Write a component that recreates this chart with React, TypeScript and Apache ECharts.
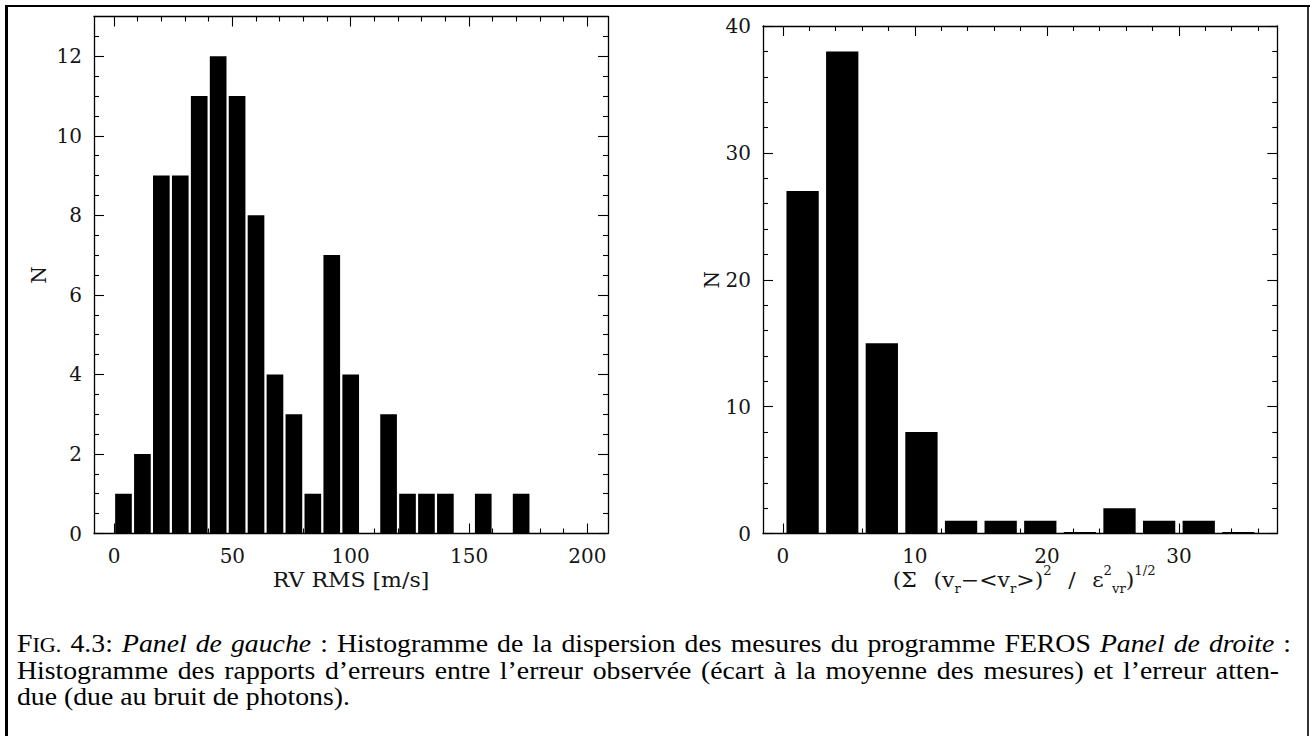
import React, { useEffect, useRef } from "react";
import * as echarts from "echarts";

// ---------- data ----------
const leftBinStart = 0;
const leftBinWidth = 8;
const leftCounts = [1, 2, 9, 9, 11, 12, 11, 8, 4, 3, 1, 7, 4, 0, 3, 1, 1, 1, 0, 1, 0, 1];

const rightBinStart = 0;
const rightBinWidth = 3;
const rightCounts = [27, 38, 15, 8, 1, 1, 1, 0, 2, 1, 1, 0];

const leftXMajor = [0, 50, 100, 150, 200];
const leftXMinor = [10, 20, 30, 40, 60, 70, 80, 90, 110, 120, 130, 140, 160, 170, 180, 190];
const leftYMajor = [0, 2, 4, 6, 8, 10, 12];
const leftYMinor = [0.5, 1, 1.5, 2.5, 3, 3.5, 4.5, 5, 5.5, 6.5, 7, 7.5, 8.5, 9, 9.5, 10.5, 11, 11.5, 12.5];

const rightXMajor = [0, 10, 20, 30];
const rightXMinor = [2, 4, 6, 8, 12, 14, 16, 18, 22, 24, 26, 28, 32, 34, 36];
const rightYMajor = [0, 10, 20, 30, 40];
const rightYMinor = [2, 4, 6, 8, 12, 14, 16, 18, 22, 24, 26, 28, 32, 34, 36, 38];

const leftXRange = [-8.45, 208.7];
const leftYRange = [0, 13];
const rightXRange = [-1.5, 37.45];
const rightYRange = [0, 40];

const leftXName = "RV RMS [m/s]";
const rightXName =
  "(Σ{sp| }(v{sub|r}−<v{sub|r}>){sup|2}{sp| }/{sp| }ε{sup|2}{sub|vr}){sup|1/2}";
const yName = "N";

type Run = { t: string; s: "n" | "i" | "sc" };
const captionLines: { runs: Run[]; justify: boolean; right: number }[] = [
  {
    justify: true,
    right: 1291,
    runs: [
      { t: "F", s: "n" },
      { t: "IG.", s: "sc" },
      { t: " 4.3: ", s: "n" },
      { t: "Panel de gauche", s: "i" },
      { t: " : Histogramme de la dispersion des mesures du programme FEROS ", s: "n" },
      { t: "Panel de droite", s: "i" },
      { t: " :", s: "n" },
    ],
  },
  {
    justify: true,
    right: 1279,
    runs: [
      {
        t: "Histogramme des rapports d’erreurs entre l’erreur observée (écart à la moyenne des mesures) et l’erreur atten-",
        s: "n",
      },
    ],
  },
  { justify: false, right: 0, runs: [{ t: "due (due au bruit de photons).", s: "n" }] },
];

// ---------- styles ----------
const AXIS_FONT = "DejaVu Serif";
const CAP_FONT = "Liberation Serif";
const INK = "#151515";
const CAP_SIZE = 25;
const SC_SIZE = 20;
const CAP_STRETCH = 1.11;
const NAME_STRETCH = 1.1;
const CAP_LEFT = 17;
const CAP_BASELINES = [652, 678.5, 705];

const GRIDS = [
  { left: 94, top: 16.5, width: 514, height: 517 },
  { left: 763, top: 26, width: 514.3, height: 507.5 },
];

function bins(start: number, width: number, counts: number[]) {
  return counts.map((c, i) => [start + i * width, start + (i + 1) * width, c]);
}

function makeAxes(
  dim: "x" | "y",
  grid: number,
  range: number[],
  major: number[],
  minor: number[],
  name: string,
  nameGap: number
) {
  const sides = dim === "x" ? ["bottom", "top"] : ["left", "right"];
  const axes: any[] = [];
  sides.forEach((pos, si) => {
    [major, minor].forEach((vals, mi) => {
      const isMain = si === 0 && mi === 0;
      axes.push({
        type: "value",
        gridIndex: grid,
        position: pos,
        min: range[0],
        max: range[1],
        name: isMain ? name : "",
        nameLocation: "middle",
        nameGap,
        nameTextStyle: { fontFamily: AXIS_FONT, fontSize: 20, color: INK },
        axisLine: {
          show: mi === 0,
          onZero: false,
          lineStyle: { color: "#000", width: 1.3 },
        },
        axisTick: {
          show: true,
          inside: true,
          length: mi === 0 ? 10 : 5,
          customValues: vals,
          lineStyle: { color: "#000", width: 1.1 },
        },
        axisLabel: {
          show: isMain,
          customValues: vals,
          margin: 12,
          fontFamily: AXIS_FONT,
          fontSize: 20,
          color: INK,
        },
        splitLine: { show: false },
        minorTick: { show: false },
      });
    });
  });
  return axes;
}

function histSeries(data: number[][], xIdx: number, yIdx: number, frac: number, minH: number) {
  return {
    type: "custom",
    coordinateSystem: "cartesian2d",
    xAxisIndex: xIdx,
    yAxisIndex: yIdx,
    encode: { x: [0, 1], y: 2 },
    data,
    clip: false,
    renderItem: (params: any, api: any) => {
      const lo = api.value(0);
      const hi = api.value(1);
      const n = api.value(2);
      const a = api.coord([lo, 0]);
      const b = api.coord([hi, n]);
      const w = b[0] - a[0];
      const shrink = (w * (1 - frac)) / 2;
      const h = Math.max(a[1] - b[1], minH);
      return {
        type: "rect",
        shape: { x: a[0] + shrink, y: a[1] - h, width: w - 2 * shrink, height: h },
        style: { fill: "#000" },
      };
    },
  };
}

function fontOf(s: string) {
  if (s === "i") return { style: "italic", size: CAP_SIZE };
  if (s === "sc") return { style: "normal", size: SC_SIZE };
  return { style: "normal", size: CAP_SIZE };
}

function captionElements() {
  const ctx = document.createElement("canvas").getContext("2d")!;
  const measure = (t: string, s: string) => {
    const f = fontOf(s);
    ctx.font = `${f.style} ${f.size}px "${CAP_FONT}"`;
    return ctx.measureText(t).width * CAP_STRETCH;
  };
  const els: any[] = [];
  captionLines.forEach((line, li) => {
    const words: Run[][] = [[]];
    line.runs.forEach((r) => {
      r.t.split(" ").forEach((p, k) => {
        if (k > 0) words.push([]);
        if (p) words[words.length - 1].push({ t: p, s: r.s });
      });
    });
    const ws = words.filter((w) => w.length > 0);
    const widths = ws.map((w) => w.reduce((acc, p) => acc + measure(p.t, p.s), 0));
    const total = widths.reduce((a, b) => a + b, 0);
    const natural = measure(" ", "n");
    const gap = line.justify
      ? Math.max(natural, (line.right - CAP_LEFT - total) / (ws.length - 1))
      : natural;
    let x = CAP_LEFT;
    const base = CAP_BASELINES[li];
    ws.forEach((w) => {
      w.forEach((p) => {
        const f = fontOf(p.s);
        els.push({
          type: "text",
          x,
          y: base - 0.3375 * f.size,
          scaleX: CAP_STRETCH,
          style: {
            text: p.t,
            fontFamily: CAP_FONT,
            fontSize: f.size,
            fontStyle: f.style,
            fill: "#000",
            align: "left",
            verticalAlign: "middle",
          },
        });
        x += measure(p.t, p.s);
      });
      x += gap;
    });
  });
  return els;
}

export default function App() {
  const ref = useRef<HTMLDivElement>(null);
  useEffect(() => {
    if (!ref.current) return;
    const chart = echarts.init(ref.current, undefined, { renderer: "svg" });

    const nameRich = {
      sub: { fontFamily: AXIS_FONT, fontSize: 12, lineHeight: 10, verticalAlign: "bottom", fill: INK },
      sup: { fontFamily: AXIS_FONT, fontSize: 12, lineHeight: 12, verticalAlign: "top", fill: INK },
      sp: { fontFamily: AXIS_FONT, fontSize: 20, width: 15 },
    };

    const xAxes = [
      ...makeAxes("x", 0, leftXRange, leftXMajor, leftXMinor, "", 36),
      ...makeAxes("x", 1, rightXRange, rightXMajor, rightXMinor, "", 31),
    ];
    const yAxes = [
      ...makeAxes("y", 0, leftYRange, leftYMajor, leftYMinor, yName, 45),
      ...makeAxes("y", 1, rightYRange, rightYMajor, rightYMinor, yName, 41),
    ];

    const nameY = 580;

    chart.setOption({
      animation: false,
      backgroundColor: "#fff",
      grid: GRIDS,
      xAxis: xAxes,
      yAxis: yAxes,
      series: [
        histSeries(bins(leftBinStart, leftBinWidth, leftCounts), 0, 0, 0.88, 0),
        histSeries(bins(rightBinStart, rightBinWidth, rightCounts), 4, 4, 0.815, 1.6),
      ],
      graphic: [
        { type: "line", shape: { x1: 5, y1: 6, x2: 1310, y2: 6 }, style: { stroke: "#000", lineWidth: 2.2 } },
        { type: "line", shape: { x1: 6.5, y1: 5, x2: 6.5, y2: 736 }, style: { stroke: "#000", lineWidth: 3 } },
        { type: "line", shape: { x1: 1308, y1: 5, x2: 1308, y2: 736 }, style: { stroke: "#000", lineWidth: 1.6 } },
        {
          type: "text",
          x: GRIDS[0].left + GRIDS[0].width / 2,
          y: nameY,
          scaleX: NAME_STRETCH,
          style: {
            text: leftXName,
            fontFamily: AXIS_FONT,
            fontSize: 20,
            fill: INK,
            align: "center",
            verticalAlign: "middle",
          },
        },
        {
          type: "text",
          x: GRIDS[1].left + GRIDS[1].width / 2 + 4,
          y: nameY,
          scaleX: NAME_STRETCH,
          style: {
            text: rightXName,
            rich: nameRich,
            fontFamily: AXIS_FONT,
            fontSize: 20,
            lineHeight: 30,
            fill: INK,
            align: "center",
            verticalAlign: "middle",
          },
        },
        ...captionElements(),
      ],
    });
    return () => chart.dispose();
  }, []);
  return (
    <div
      ref={ref}
      style={{ position: "fixed", left: 0, top: 0, width: 1310, height: 736, background: "#fff" }}
    />
  );
}
